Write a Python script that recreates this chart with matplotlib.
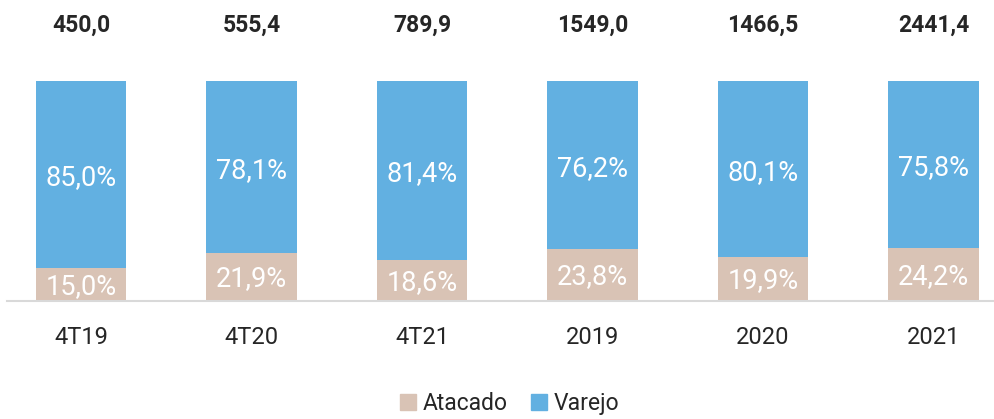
import matplotlib.pyplot as plt
from matplotlib.patches import Patch

# data
categories = ["4T19", "4T20", "4T21", "2019", "2020", "2021"]
totals = ["450,0", "555,4", "789,9", "1549,0", "1466,5", "2441,4"]
atacado = [15.0, 21.9, 18.6, 23.8, 19.9, 24.2]
varejo = [85.0, 78.1, 81.4, 76.2, 80.1, 75.8]

BLUE = "#62b0e1"
TAN = "#d9c3b5"
DARK = "#262626"

plt.rcParams['font.family'] = ['Roboto', 'DejaVu Sans']

fig = plt.figure(figsize=(9.95, 4.19), dpi=100)
ax = fig.add_axes([7 / 995, 118 / 419, 988 / 995, 220 / 419])

x = list(range(len(categories)))
ax.bar(x, atacado, width=0.53, color=TAN, zorder=2)
ax.bar(x, varejo, width=0.53, bottom=atacado, color=BLUE, zorder=2)

def fmt(v):
    return ("%.1f%%" % v).replace(".", ",")

for i in x:
    ax.text(i, atacado[i] / 2 - 0.8, fmt(atacado[i]), ha="center", va="center",
            color="white", fontsize=19.5, fontweight="normal")
    ax.text(i, atacado[i] + varejo[i] / 2 - 1.5, fmt(varejo[i]), ha="center", va="center",
            color="white", fontsize=19.5, fontweight="normal")
    ax.text(i, 125.5, totals[i], ha="center", va="center", color=DARK,
            fontsize=16.5, fontweight="bold", clip_on=False)
    ax.text(i, -16.5, categories[i], ha="center", va="center", color=DARK,
            fontsize=17, clip_on=False)

ax.set_xlim(-0.434, 5.36)
ax.set_ylim(0, 100)
for s in ["top", "right", "left"]:
    ax.spines[s].set_visible(False)
ax.spines["bottom"].set_color("#d9d9d9")
ax.spines["bottom"].set_linewidth(1.5)
ax.set_xticks([])
ax.set_yticks([])

handles = [Patch(color=TAN, label="Atacado"), Patch(color=BLUE, label="Varejo")]
fig.legend(handles=handles, loc="lower center", bbox_to_anchor=(0.512, -0.04),
           ncol=2, frameon=False, fontsize=16.5, handlelength=0.7, handleheight=0.7,
           handletextpad=0.3, columnspacing=1.0, labelcolor=DARK)

fig.savefig("out.png", dpi=100)
